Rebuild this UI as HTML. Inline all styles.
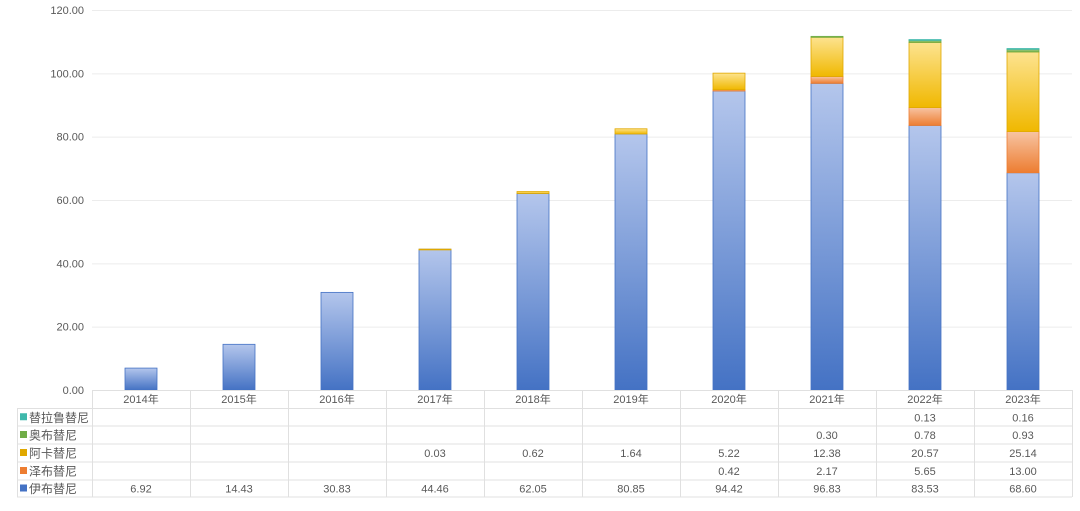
<!DOCTYPE html>
<html><head><meta charset="utf-8"><style>
body{margin:0;background:#fff;}
svg text{font-family:"Liberation Sans","Noto Sans CJK SC",sans-serif;}
</style></head><body>
<svg width="1080" height="506" xmlns="http://www.w3.org/2000/svg">
<defs>
<linearGradient id="gb" x1="0" y1="0" x2="0" y2="1"><stop offset="0" stop-color="#b4c6ec"/><stop offset="1" stop-color="#4472c4"/></linearGradient>
<linearGradient id="go" x1="0" y1="0" x2="0" y2="1"><stop offset="0" stop-color="#f7c4a2"/><stop offset="1" stop-color="#ed7d31"/></linearGradient>
<linearGradient id="gy" x1="0" y1="0" x2="0" y2="1"><stop offset="0" stop-color="#fde38f"/><stop offset="1" stop-color="#f0b800"/></linearGradient>
<linearGradient id="gg" x1="0" y1="0" x2="0" y2="1"><stop offset="0" stop-color="#a9d18e"/><stop offset="1" stop-color="#70ad47"/></linearGradient>
<linearGradient id="gt" x1="0" y1="0" x2="0" y2="1"><stop offset="0" stop-color="#8fdcd3"/><stop offset="1" stop-color="#3fb8ab"/></linearGradient>
</defs>
<g id="grid" stroke="#ececec" stroke-width="1"></g>
<g id="yl" font-size="11" fill="#595959" text-anchor="end"></g>
<g id="bars"></g>
<g id="tbl" stroke="#e0e0e0" stroke-width="1" fill="none"></g>
<g id="tt" font-size="11" fill="#595959" text-anchor="middle"></g>
</svg>
<script>
const ns="http://www.w3.org/2000/svg";
function el(p,t,a,txt){const e=document.createElementNS(ns,t);for(const k in a)e.setAttribute(k,a[k]);if(txt!==undefined)e.textContent=txt;document.getElementById(p).appendChild(e);return e;}
const y0=390,s=380/120;
for(let i=0;i<=6;i++){const y=y0-i*20*s;el('grid','line',{x1:92,x2:1072,y1:y+.5,y2:y+.5});el('yl','text',{x:84,y:y+4},(i*20).toFixed(2));}
const years=['2014年','2015年','2016年','2017年','2018年','2019年','2020年','2021年','2022年','2023年'];
const data=[[6.92,14.43,30.83,44.46,62.05,80.85,94.42,96.83,83.53,68.60],
[0,0,0,0,0,0,0.42,2.17,5.65,13.00],
[0,0,0,0.03,0.62,1.64,5.22,12.38,20.57,25.14],
[0,0,0,0,0,0,0,0.30,0.78,0.93],
[0,0,0,0,0,0,0,0,0.13,0.16]];
const grads=['gb','go','gy','gg','gt'],strokes=['#4472c4','#ed7d31','#e0a800','#70ad47','#3fb8ab'];
const x0=92,cw=98;
for(let j=0;j<10;j++){let acc=0;const cx=x0+cw*j+cw/2;
 for(let k=0;k<5;k++){const v=data[k][j];if(!v)continue;const yt=y0-(acc+v)*s,yb=y0-acc*s;
  el('bars','rect',{x:cx-16,y:yt,width:32,height:Math.max(yb-yt,0.8),fill:'url(#'+grads[k]+')',stroke:strokes[k],'stroke-width':0.8});acc+=v;}}
// table
const rows=[390,408.5,426,444,462,480,497];
el('tbl','line',{x1:x0,x2:1072,y1:390.5,y2:390.5});
for(let r=1;r<rows.length;r++)el('tbl','line',{x1:17,x2:1072,y1:rows[r],y2:rows[r]});
for(let j=0;j<=10;j++)el('tbl','line',{x1:x0+cw*j+.5,x2:x0+cw*j+.5,y1:390,y2:497});
el('tbl','line',{x1:17.5,x2:17.5,y1:408.5,y2:497});
years.forEach((y,j)=>el('tt','text',{x:x0+cw*j+cw/2,y:403},y));
const names=['替拉鲁替尼','奥布替尼','阿卡替尼','泽布替尼','伊布替尼'];
const ord=[4,3,2,1,0];
names.forEach((n,r)=>{const yc=(rows[r+1]+rows[r+2])/2;
 el('tt','rect',{x:20,y:yc-4,width:7,height:7,fill:strokes[ord[r]]});
 el('tt','text',{x:29,y:yc+4.5,'text-anchor':'start','font-size':12},n);
 const k=ord[r];for(let j=0;j<10;j++){const v=data[k][j];if(v)el('tt','text',{x:x0+cw*j+cw/2,y:yc+4},v.toFixed(2));}
});
</script>
</body></html>
